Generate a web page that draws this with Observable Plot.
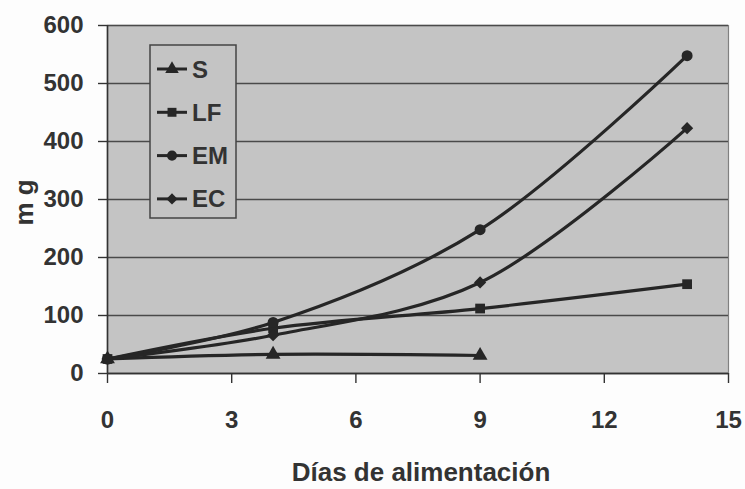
<!DOCTYPE html>
<html><head><meta charset="utf-8">
<script src="https://cdn.jsdelivr.net/npm/d3@7"></script>
<script src="https://cdn.jsdelivr.net/npm/@observablehq/plot@0.6"></script>
<style>
body{margin:0;background:#fdfdfd;}
#chart{position:relative;width:745px;height:489px;}
</style>
</head><body><div id="chart"></div>
<script>
const days = [0, 4, 9, 14];
const seriesNames = ["S", "LF", "EM", "EC"];
const S  = [25, 33, 31];
const LF = [25, 78, 112, 154];
const EM = [25, 88, 248, 548];
const EC = [25, 66, 157, 423];
const symbolNames = ["triangle", "square", "circle", "diamond2"];
const xTicks = [0, 3, 6, 9, 12, 15];
const yTicks = [0, 100, 200, 300, 400, 500, 600];
const xTitle = "Días de alimentación";
const yTitle = "m g";

const rows = [];
[S, LF, EM, EC].forEach((vals, i) =>
  vals.forEach((v, j) => rows.push({serie: seriesNames[i], day: days[j], mg: v})));

const ink = "#262626";
const font = "'Liberation Sans', Arial, sans-serif";

const plot = Plot.plot({
  width: 745, height: 489,
  marginLeft: 107, marginRight: 17, marginTop: 25, marginBottom: 116,
  style: {fontFamily: font, fontWeight: "bold", fontSize: "24px", color: "#333", background: "transparent", overflow: "visible"},
  x: {domain: [0, 15], ticks: xTicks},
  y: {domain: [0, 600], ticks: yTicks},
  symbol: {domain: seriesNames, range: symbolNames},
  marks: [
    Plot.frame({fill: "#c4c4c4", stroke: "#808080", strokeWidth: 1.2}),
    Plot.gridY(yTicks, {stroke: "#4a4a4a", strokeOpacity: 1, strokeWidth: 1.4}),
    Plot.ruleX([0], {stroke: "#333", strokeWidth: 1.6}),
    Plot.ruleY([0], {stroke: "#333", strokeWidth: 1.6}),
    Plot.axisY(yTicks, {tickSize: 9, tickPadding: 15, fontSize: 24, label: null, stroke: "#333", strokeWidth: 1.4}),
    Plot.axisX(xTicks, {tickSize: 10, tickPadding: 27, fontSize: 24, label: null, stroke: "#333", strokeWidth: 1.4}),
    Plot.line(rows, {x: "day", y: "mg", z: "serie", curve: "catmull-rom", stroke: ink, strokeWidth: 3.2}),
    Plot.dot(rows, {x: "day", y: "mg", symbol: "serie", fill: ink, stroke: "none", r: 5.5}),
    Plot.text([xTitle], {frameAnchor: "bottom", textAnchor: "middle", dx: 3, dy: 107, fontSize: 26, fontWeight: "bold", fill: "#333"}),
    Plot.text([yTitle], {frameAnchor: "left", textAnchor: "middle", rotate: -90, dx: -83, dy: 3, fontSize: 26, fontWeight: "bold", fill: "#333"})
  ]
});
document.getElementById("chart").appendChild(plot);

// legend drawn into the same SVG
const svg = d3.select(plot);
const lg = svg.append("g").attr("transform", "translate(150,45)");
lg.append("rect").attr("width", 86).attr("height", 173)
  .attr("fill", "#c4c4c4").attr("stroke", "#444").attr("stroke-width", 1.5);
const d3sym = {triangle: d3.symbolTriangle, square: d3.symbolSquare, circle: d3.symbolCircle, diamond2: d3.symbolDiamond2};
seriesNames.forEach((name, i) => {
  const g = lg.append("g").attr("transform", `translate(0,${24 + i * 43.3})`);
  g.append("line").attr("x1", 7).attr("x2", 37).attr("y1", 0).attr("y2", 0)
    .attr("stroke", ink).attr("stroke-width", 3);
  g.append("path").attr("transform", "translate(22,0)")
    .attr("d", d3.symbol(d3sym[symbolNames[i]], 80)()).attr("fill", ink);
  g.append("text").attr("x", 42).attr("y", 8.5).text(name)
    .attr("text-anchor", "start")
    .attr("font-family", font).attr("font-weight", "bold").attr("font-size", 24).attr("fill", "#333");
});
</script>
</body></html>
